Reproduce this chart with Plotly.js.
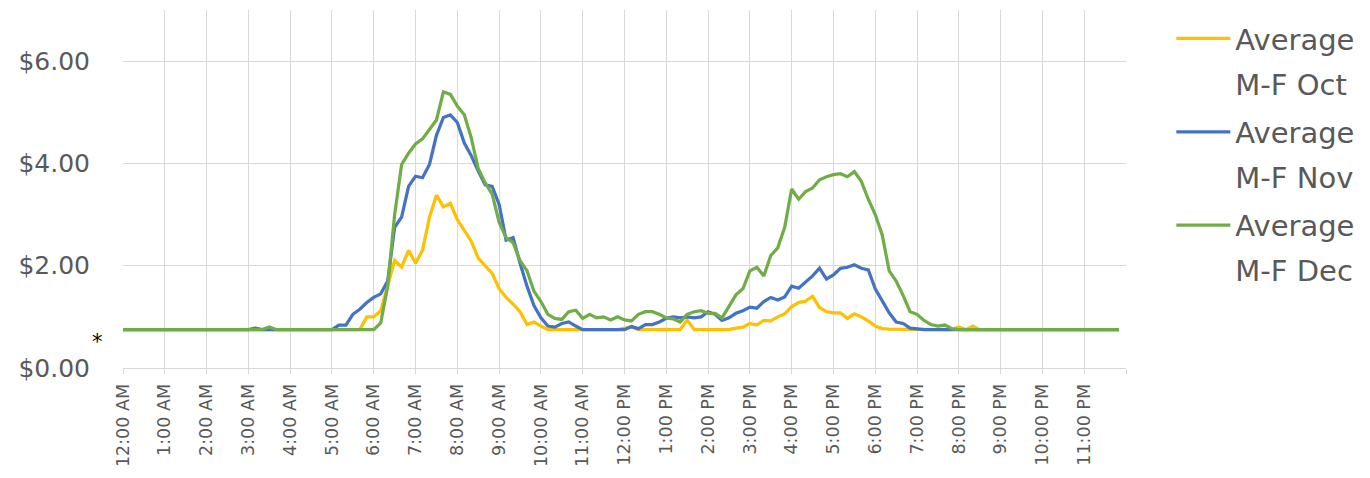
<!DOCTYPE html>
<html>
<head>
<meta charset="utf-8">
<script src="https://cdn.plot.ly/plotly-3.0.1.min.js"></script>
<style>
  html, body { margin: 0; padding: 0; background: #fff; }
  #chart { width: 1370px; height: 478px; }
</style>
</head>
<body>
<div id="chart"></div>
<script>
// Hour tick labels (category axis of a 24h day)
const hourLabels = ['12:00 AM','1:00 AM','2:00 AM','3:00 AM','4:00 AM','5:00 AM','6:00 AM','7:00 AM','8:00 AM','9:00 AM','10:00 AM','11:00 AM',
                    '12:00 PM','1:00 PM','2:00 PM','3:00 PM','4:00 PM','5:00 PM','6:00 PM','7:00 PM','8:00 PM','9:00 PM','10:00 PM','11:00 PM'];
// 10-minute sample positions, in hours of the day
const minuteSteps = [0, 10, 20, 30, 40, 50];
const times = [];
for (let h = 0; h < 24; h++) { for (const m of minuteSteps) { times.push(h + m / 60); } }

const seriesNames = ['Average<br>M-F Oct', 'Average<br>M-F Nov', 'Average<br>M-F Dec'];

// Values, six per hour (10-minute steps)
const octValues = [
  0.75,0.75,0.75,0.75,0.75,0.75,  // 0
  0.75,0.75,0.75,0.75,0.75,0.75,  // 1
  0.75,0.75,0.75,0.75,0.75,0.75,  // 2
  0.75,0.75,0.75,0.75,0.75,0.75,  // 3
  0.75,0.75,0.75,0.75,0.75,0.75,  // 4
  0.75,0.75,0.75,0.75,0.75,1.00,  // 5
  1.00,1.12,1.60,2.10,1.97,2.30,  // 6
  2.05,2.30,2.95,3.38,3.15,3.22,  // 7
  2.90,2.68,2.48,2.15,2.00,1.85,  // 8
  1.55,1.38,1.25,1.10,0.85,0.90,  // 9
  0.82,0.75,0.75,0.75,0.75,0.75,  // 10
  0.75,0.75,0.75,0.75,0.75,0.75,  // 11
  0.78,0.80,0.75,0.75,0.75,0.75,  // 12
  0.75,0.75,0.75,0.94,0.75,0.75,  // 13
  0.75,0.75,0.75,0.75,0.78,0.80,  // 14
  0.87,0.84,0.93,0.92,1.00,1.06,  // 15
  1.20,1.28,1.31,1.40,1.18,1.10,  // 16
  1.08,1.08,0.97,1.06,1.00,0.92,  // 17
  0.82,0.77,0.76,0.76,0.76,0.76,  // 18
  0.76,0.76,0.76,0.76,0.76,0.75,  // 19
  0.80,0.75,0.82,0.75,0.75,0.75,  // 20
  0.75,0.75,0.75,0.75,0.75,0.75,  // 21
  0.75,0.75,0.75,0.75,0.75,0.75,  // 22
  0.75,0.75,0.75,0.75,0.75,0.75   // 23
];
const novValues = [
  0.75,0.75,0.75,0.75,0.75,0.75,  // 0
  0.75,0.75,0.75,0.75,0.75,0.75,  // 1
  0.75,0.75,0.75,0.75,0.75,0.75,  // 2
  0.75,0.78,0.75,0.75,0.75,0.75,  // 3
  0.75,0.75,0.75,0.75,0.75,0.75,  // 4
  0.75,0.84,0.84,1.05,1.15,1.28,  // 5
  1.38,1.45,1.70,2.75,2.95,3.55,  // 6
  3.75,3.72,3.98,4.55,4.90,4.95,  // 7
  4.80,4.40,4.15,3.85,3.58,3.55,  // 8
  3.20,2.50,2.55,2.05,1.60,1.22,  // 9
  0.98,0.82,0.80,0.87,0.90,0.82,  // 10
  0.75,0.75,0.75,0.75,0.75,0.75,  // 11
  0.75,0.81,0.77,0.85,0.85,0.90,  // 12
  0.97,1.00,0.98,1.00,0.98,1.00,  // 13
  1.10,1.05,0.93,0.98,1.07,1.12,  // 14
  1.19,1.17,1.30,1.38,1.33,1.39,  // 15
  1.60,1.56,1.67,1.80,1.95,1.74,  // 16
  1.82,1.95,1.97,2.02,1.95,1.92,  // 17
  1.55,1.32,1.08,0.90,0.87,0.78,  // 18
  0.76,0.75,0.75,0.75,0.75,0.75,  // 19
  0.75,0.75,0.75,0.75,0.75,0.75,  // 20
  0.75,0.75,0.75,0.75,0.75,0.75,  // 21
  0.75,0.75,0.75,0.75,0.75,0.75,  // 22
  0.75,0.75,0.75,0.75,0.75,0.75   // 23
];
const decValues = [
  0.75,0.75,0.75,0.75,0.75,0.75,  // 0
  0.75,0.75,0.75,0.75,0.75,0.75,  // 1
  0.75,0.75,0.75,0.75,0.75,0.75,  // 2
  0.75,0.75,0.75,0.80,0.75,0.75,  // 3
  0.75,0.75,0.75,0.75,0.75,0.75,  // 4
  0.75,0.75,0.75,0.75,0.75,0.75,  // 5
  0.75,0.88,1.60,3.00,3.98,4.20,  // 6
  4.38,4.48,4.66,4.85,5.40,5.35,  // 7
  5.12,4.95,4.50,3.90,3.62,3.40,  // 8
  2.85,2.55,2.45,2.10,1.90,1.50,  // 9
  1.30,1.05,0.97,0.95,1.10,1.13,  // 10
  0.97,1.05,0.98,1.00,0.94,1.00,  // 11
  0.94,0.92,1.05,1.10,1.10,1.05,  // 12
  0.98,0.96,0.90,1.05,1.10,1.12,  // 13
  1.07,1.07,0.98,1.20,1.43,1.55,  // 14
  1.90,1.97,1.80,2.20,2.35,2.75,  // 15
  3.50,3.30,3.45,3.52,3.68,3.74,  // 16
  3.78,3.80,3.74,3.84,3.65,3.30,  // 17
  3.00,2.60,1.90,1.70,1.42,1.10,  // 18
  1.05,0.93,0.85,0.82,0.84,0.77,  // 19
  0.75,0.75,0.75,0.75,0.75,0.75,  // 20
  0.75,0.75,0.75,0.75,0.75,0.75,  // 21
  0.75,0.75,0.75,0.75,0.75,0.75,  // 22
  0.75,0.75,0.75,0.75,0.75,0.75   // 23
];
const yTickValues = [0, 2, 4, 6];
const yTickLabels = ['$0.00', '$2.00', '$4.00', '$6.00'];

const colors = ['#FFC000', '#4472C4', '#70AD47'];
const seriesValues = [octValues, novValues, decValues];

const traces = seriesValues.map((vals, i) => ({
  type: 'scatter', mode: 'lines',
  x: times, y: vals,
  name: seriesNames[i],
  legendgroup: 'g' + i,
  line: { color: colors[i], width: 3.25, shape: 'linear' },
  hoverinfo: 'skip'
}));

const hourTicks = hourLabels.map((_, i) => i).concat([24]);
const hourText = hourLabels.concat(['']);

const FONT = '"DejaVu Sans", "Open Sans", sans-serif';

const layout = {
  width: 1370, height: 478,
  margin: { l: 122.5, r: 244.3, t: 9.6, b: 110, autoexpand: false },
  paper_bgcolor: '#ffffff', plot_bgcolor: '#ffffff',
  font: { family: FONT, color: '#595959' },
  showlegend: true,
  xaxis: {
    type: 'linear', range: [0, 24],
    tickmode: 'array', tickvals: hourTicks, ticktext: hourText,
    tickangle: -90, tickfont: { family: FONT, size: 17.5, color: '#595959' },
    showgrid: true, gridcolor: '#d9d9d9', gridwidth: 1,
    zeroline: false, showline: true, linecolor: '#d9d9d9', linewidth: 1,
    ticks: 'outside', ticklen: 5, tickcolor: '#d9d9d9',
    ticklabelstandoff: 3,
    fixedrange: true
  },
  yaxis: {
    range: [0, 7],
    tickmode: 'array', tickvals: yTickValues, ticktext: yTickLabels,
    tickfont: { family: FONT, size: 25, color: '#595959' },
    showgrid: true, gridcolor: '#d9d9d9', gridwidth: 1,
    zeroline: false, showline: false,
    ticks: '', ticklabelstandoff: 32,
    fixedrange: true
  },
  legend: {
    x: 1.0452, xanchor: 'left', y: 0.9916, yanchor: 'top',
    font: { family: FONT, size: 29, color: '#595959' },
    itemwidth: 54,
    tracegroupgap: 15, valign: 'top',
    bgcolor: 'rgba(0,0,0,0)'
  },
  annotations: [{
    xref: 'paper', yref: 'paper', x: -0.0254, y: 0.072,
    text: '*', showarrow: false, font: { family: FONT, size: 21, color: '#000000' },
    xanchor: 'center', yanchor: 'middle'
  }]
};

Plotly.newPlot('chart', traces, layout, { staticPlot: true, displayModeBar: false }).then(gd => {
  // lengthen the legend line samples to fill the wider symbol slot
  document.querySelectorAll('.legend .legendlines path').forEach(p => p.setAttribute('d', 'M5,0h54'));
  // looser line spacing inside the two-line legend labels
  document.querySelectorAll('.legend text.legendtext').forEach(t => {
    t.querySelectorAll('tspan.line').forEach((ln, i) => { if (i > 0) ln.setAttribute('dy', (i * 1.55) + 'em'); });
  });
});
</script>
</body>
</html>
